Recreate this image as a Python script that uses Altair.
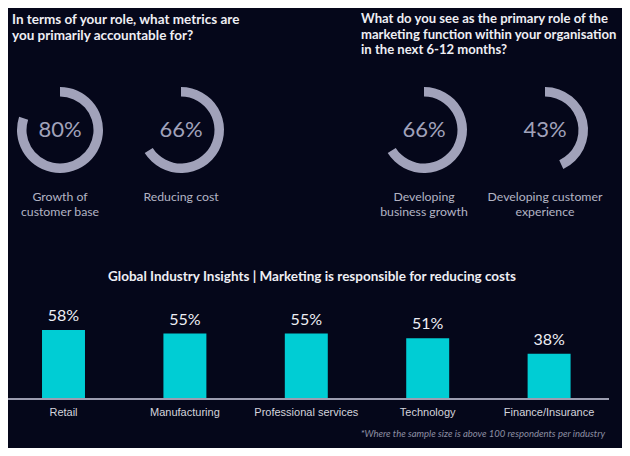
import math
import altair as alt
import pandas as pd

# ---------------- data ----------------
q1_title = "In terms of your role, what metrics are\nyou primarily accountable for?"
q1_names = ["Growth of customer base", "Reducing cost"]
q1_labels = ["Growth of\ncustomer base", "Reducing cost"]
q1_values = [80, 66]

q2_title = "What do you see as the primary role of the\nmarketing function within your organisation\nin the next 6-12 months?"
q2_names = ["Developing business growth", "Developing customer experience"]
q2_labels = ["Developing\nbusiness growth", "Developing customer\nexperience"]
q2_values = [66, 43]

bar_title = "Global Industry Insights | Marketing is responsible for reducing costs"
industries = ["Retail", "Manufacturing", "Professional services", "Technology", "Finance/Insurance"]
industry_values = [58, 55, 55, 51, 38]
footnote = "*Where the sample size is above 100 respondents per industry"

# ---------------- style ----------------
BG = "#05071a"
ARC = "#a1a2ba"
LABEL = "#b3b4c4"
WHITE = "#eeeef4"
CYAN = "#00cdd4"
FONT = "Lato"

W, H = 614, 440
RING_Y = 122


def donut_layers(names, labels, values, xrange):
    df = pd.DataFrame({"name": names, "label": labels, "pct": values})
    xs = alt.X("name:N", sort=names,
               scale=alt.Scale(type="point", domain=names, range=xrange, padding=0),
               axis=None)
    base = alt.Chart(df).encode(x=xs)
    ring = base.mark_arc(innerRadius=33.5, outerRadius=43, color=ARC).transform_calculate(
        start="0"
    ).encode(
        y=alt.value(RING_Y),
        theta=alt.Theta("start:Q", stack=None,
                        scale=alt.Scale(domain=[0, 100], range=[0, 2 * math.pi])),
        theta2="pct:Q",
    )
    pct = base.mark_text(font=FONT, fontSize=22, color=ARC, baseline="middle").transform_calculate(
        txt="datum.pct + '%'"
    ).encode(y=alt.value(RING_Y), text="txt:N")
    lab = base.mark_text(font=FONT, fontSize=12.3, color=LABEL, baseline="top",
                         lineBreak="\n", lineHeight=15).encode(
        y=alt.value(183), text="label:N")
    return [ring, pct, lab]


def static_text(text, x, y, **kw):
    return alt.Chart(alt.Data(values=[{"t": text}])).mark_text(lineBreak="\n", **kw).encode(
        x=alt.value(x), y=alt.value(y), text="t:N")


layers = []
layers += donut_layers(q1_names, q1_labels, q1_values, [52, 173])
layers += donut_layers(q2_names, q2_labels, q2_values, [416, 537])

layers.append(static_text(q1_title, 4, 5, font=FONT, fontSize=13.5, fontWeight="bold",
                          color=WHITE, align="left", baseline="top", lineHeight=16))
layers.append(static_text(q2_title, 353, 5, font=FONT, fontSize=13.1, fontWeight="bold",
                          color=WHITE, align="left", baseline="top", lineHeight=15.5))

# bar chart
bdf = pd.DataFrame({"industry": industries, "pct": industry_values})
bx = alt.X("industry:N", sort=industries,
           scale=alt.Scale(domain=industries, range=[-5.2, 601.8],
                           paddingInner=0.646, paddingOuter=0.323),
           axis=None)
by = alt.Y("pct:Q", scale=alt.Scale(domain=[0, 100], range=[391, 272]), axis=None)
bbase = alt.Chart(bdf).encode(x=bx)
bars = bbase.mark_bar(color=CYAN).encode(y=by)
vals = bbase.mark_text(font=FONT, fontSize=16, color=WHITE, dy=-14, baseline="middle").transform_calculate(
    txt="datum.pct + '%'"
).encode(y=by, text="txt:N")
cats = bbase.mark_text(font="Liberation Sans", fontSize=11, color="#d4d4dc", baseline="middle").encode(
    y=alt.value(405), text="industry:N")
baseline = alt.Chart(alt.Data(values=[{}])).mark_rule(color="#9c9db0", strokeWidth=2).encode(
    x=alt.value(0), x2=alt.value(601), y=alt.value(391))

layers += [bars, vals, baseline, cats]
layers.append(static_text(bar_title, 304, 269, font=FONT, fontSize=13.5, fontWeight="bold",
                          color=WHITE, align="center", baseline="middle"))
layers.append(static_text(footnote, 597, 426, font=FONT, fontSize=9.5, fontStyle="italic",
                          color="#8d8fa3", align="right", baseline="middle"))

chart = alt.layer(*layers).resolve_scale(
    x="independent", y="independent", theta="independent"
).properties(
    width=W, height=H, padding=0, autosize="none", background=BG
).configure_view(stroke=None)

chart.save("out.html", embed_options={"renderer": "svg", "actions": False})
